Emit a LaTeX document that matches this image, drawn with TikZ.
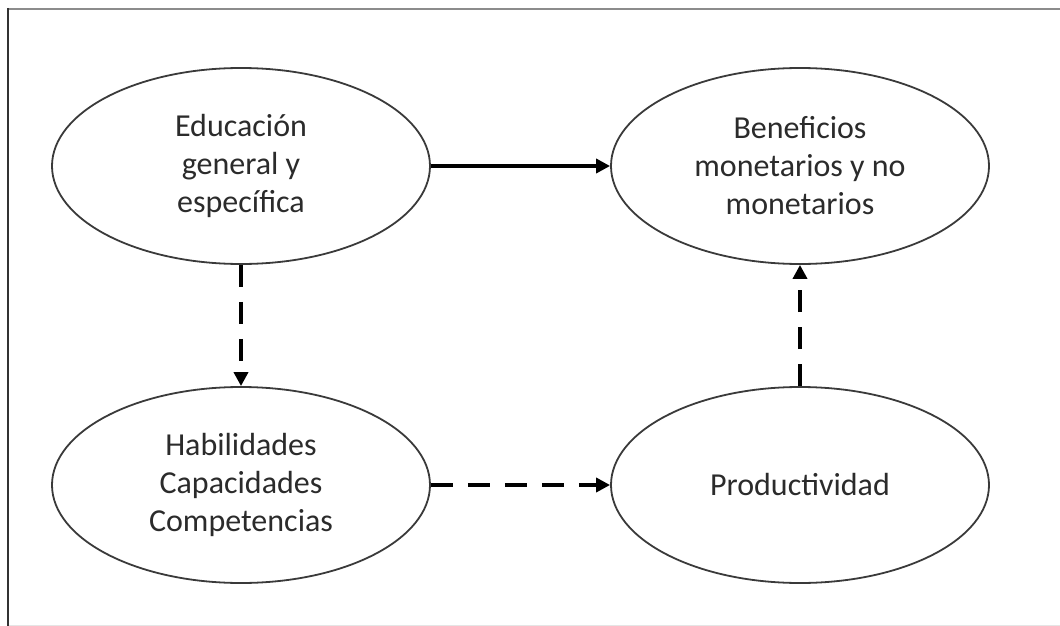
\documentclass[tikz,border=0pt]{standalone}
\usepackage{fontspec}
\setmainfont{Carlito}
\usetikzlibrary{shapes.geometric,arrows.meta}
\definecolor{txt}{HTML}{2B2B2B}
\definecolor{edge}{HTML}{3A3A3A}
\tikzset{
  oval/.style={ellipse, draw=edge, line width=1.8pt, minimum width=378pt, minimum height=196pt, inner sep=0pt,
    align=center, text=txt, font=\fontsize{32}{38}\selectfont},
  conn/.style={line width=3.6pt, -{Triangle[length=14pt,width=14pt]}},
  dconn/.style={conn, dash pattern=on 22pt off 15pt}
}
\begin{document}
\begin{tikzpicture}[x=1pt,y=-1pt]
\useasboundingbox (0,0) rectangle (1060,626);
\draw[color=gray!20, line width=1pt] (8,625) -- (1060,625);
\draw[color=black!45, line width=2.5pt] (7,9) -- (1060,9);
\draw[color=black!80, line width=2pt] (8,8) -- (8,626);
\node[oval] (edu) at (241,166) {Educación\\general y\\específica};
\node[oval] (ben) at (800,166) {Beneficios\\monetarios y no\\monetarios};
\node[oval] (hab) at (241,485) {Habilidades\\Capacidades\\Competencias};
\node[oval] (pro) at (800,485) {Productividad};
\draw[conn] (edu) -- (ben);
\draw[dconn] (edu) -- (hab);
\draw[dconn] (hab) -- (pro);
\draw[dconn] (pro) -- (ben);
\end{tikzpicture}
\end{document}
